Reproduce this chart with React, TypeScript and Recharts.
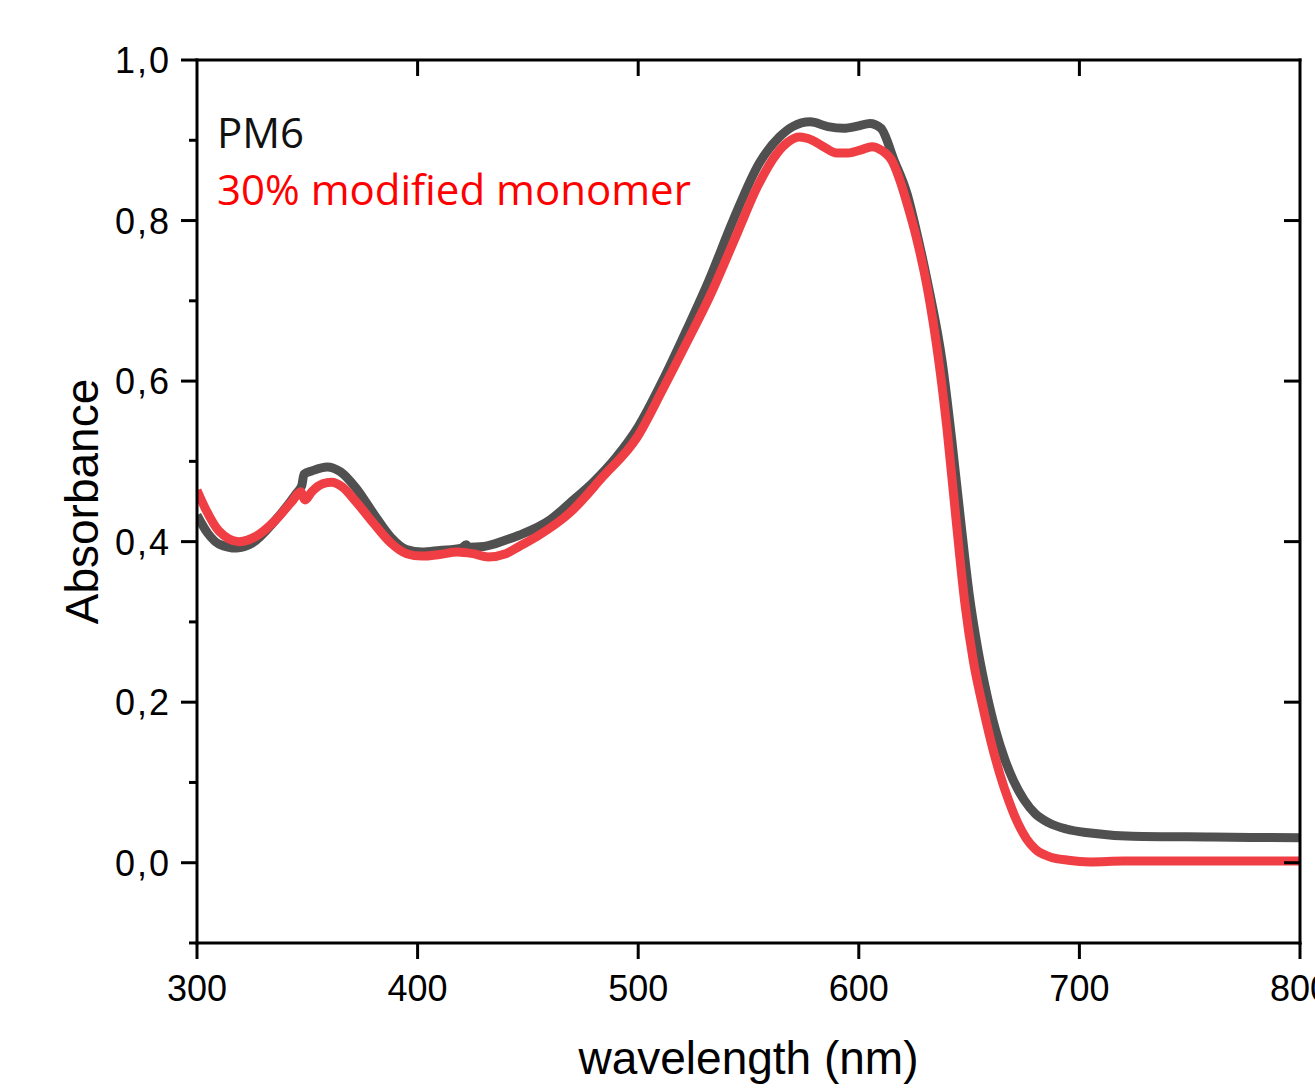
import React from 'react';
import { LineChart, Line, XAxis, YAxis, Legend } from 'recharts';

const pm6Wavelength = [300, 305, 310, 318, 325, 335, 345, 347.5, 348.5, 352, 359, 365, 372, 380, 388, 395, 402, 410, 420, 422, 423, 430, 440, 446, 460, 469, 480, 490, 500, 511, 522, 532, 543, 555, 564, 570, 578, 586, 593, 600, 605, 610, 616, 622, 626, 631, 638, 642, 646, 650, 654, 658, 662, 666, 670, 675, 680, 686, 694, 705, 724, 760, 800];
const pm6Absorbance = [0.433, 0.41, 0.397, 0.392, 0.398, 0.425, 0.46, 0.47, 0.484, 0.488, 0.493, 0.487, 0.467, 0.435, 0.405, 0.39, 0.387, 0.389, 0.392, 0.396, 0.393, 0.394, 0.402, 0.408, 0.427, 0.448, 0.475, 0.505, 0.543, 0.6, 0.664, 0.725, 0.8, 0.872, 0.904, 0.917, 0.923, 0.917, 0.915, 0.918, 0.921, 0.915, 0.875, 0.832, 0.788, 0.725, 0.62, 0.53, 0.43, 0.335, 0.265, 0.21, 0.165, 0.13, 0.103, 0.078, 0.061, 0.05, 0.042, 0.037, 0.033, 0.032, 0.031];

const modWavelength = [300, 304, 310, 319, 327, 335, 343, 347, 349, 352, 357, 361, 366, 372, 380, 388, 395, 402, 410, 418, 425, 432, 440, 446, 455, 469, 484, 499.5, 511, 522, 532.5, 545, 554, 563, 568, 573, 579, 584, 590, 595, 601, 606, 610, 615.5, 619, 622, 626, 631, 636, 640, 644, 648, 652, 656, 660, 664, 668, 672, 676, 680, 686, 695, 705, 720, 760, 800];
const modAbsorbance = [0.464, 0.44, 0.413, 0.4, 0.407, 0.425, 0.45, 0.462, 0.452, 0.462, 0.472, 0.474, 0.468, 0.45, 0.423, 0.398, 0.385, 0.382, 0.384, 0.387, 0.385, 0.381, 0.385, 0.394, 0.408, 0.436, 0.481, 0.53, 0.589, 0.648, 0.706, 0.785, 0.842, 0.884, 0.898, 0.904, 0.9, 0.892, 0.884, 0.884, 0.888, 0.892, 0.888, 0.872, 0.847, 0.82, 0.78, 0.717, 0.63, 0.54, 0.43, 0.325, 0.25, 0.197, 0.15, 0.11, 0.077, 0.05, 0.03, 0.017, 0.008, 0.003, 0.001, 0.002, 0.002, 0.002];

const seriesNames = ['PM6', '30% modified monomer'];
const lineColors = ['#505050', '#ef3f44'];
const textColors = ['#111111', '#ff0000'];

const xTicks = [300, 400, 500, 600, 700, 800];
const xInnerTicks = [400, 500, 600, 700];
const yMajorTicks = [0, 0.2, 0.4, 0.6, 0.8, 1.0];
const yInnerTicks = [0, 0.2, 0.4, 0.6, 0.8];
const yAllTicks = [-0.1, 0, 0.1, 0.2, 0.3, 0.4, 0.5, 0.6, 0.7, 0.8, 0.9, 1.0];

const pm6Data = pm6Wavelength.map((w, i) => ({ w, a: pm6Absorbance[i] }));
const modData = modWavelength.map((w, i) => ({ w, a: modAbsorbance[i] }));

const AX = { stroke: '#000', strokeWidth: 3, strokeLinecap: 'square' as const };
const tickFont = { fontFamily: 'Liberation Sans, Arial, sans-serif', fontSize: 36, fill: '#000' };
const TICK = 16;

const fmt = (v: number) => v.toFixed(1).replace('.', ',');

const LeftTick = (props: any) => {
  const { x, y, payload } = props;
  const v = payload.value;
  const axisX = x + TICK + 10;
  const isMajor = yMajorTicks.some((m) => Math.abs(m - v) < 1e-6);
  return (
    <g>
      <line x1={axisX} x2={axisX - (isMajor ? TICK : 8)} y1={y} y2={y} stroke="#000" strokeWidth={3} />
      {isMajor && (
        <text x={x} y={y} dy="0.36em" textAnchor="end" letterSpacing={2} {...tickFont}>
          {fmt(v)}
        </text>
      )}
    </g>
  );
};

// top axis: tick label anchor sits TICK above the axis line (tickMargin 0)
const TopTick = (props: any) => {
  const { x, y } = props;
  const axisY = y + TICK;
  return <line x1={x} x2={x} y1={axisY} y2={axisY + TICK} stroke="#000" strokeWidth={3} />;
};

// right axis: tick label anchor sits TICK right of the axis line (tickMargin 0)
const RightTick = (props: any) => {
  const { x, y } = props;
  const axisX = x - TICK;
  return <line x1={axisX} x2={axisX - TICK} y1={y} y2={y} stroke="#000" strokeWidth={3} />;
};

const LegendContent = (props: any) => {
  const payload = (props.payload || [])
    .filter((p: any) => seriesNames.indexOf(p.value) >= 0)
    .sort((a: any, b: any) => seriesNames.indexOf(a.value) - seriesNames.indexOf(b.value));
  return (
    <div style={{ fontFamily: 'Open Sans, sans-serif', fontSize: 42, lineHeight: '57px', whiteSpace: 'nowrap' }}>
      {payload.map((p: any) => (
        <div key={p.value} style={{ color: textColors[seriesNames.indexOf(p.value)] }}>
          {p.value}
        </div>
      ))}
    </div>
  );
};

export default function App() {
  return (
    <div style={{ position: 'absolute', left: 0, top: 0, background: '#fff' }}>
      <LineChart width={1315} height={1091} margin={{ top: 59, right: 14, bottom: 88, left: 97 }}>
        <XAxis
          xAxisId="b"
          type="number"
          dataKey="w"
          domain={[300, 800]}
          ticks={xTicks}
          interval={0}
          height={60}
          axisLine={AX}
          tickLine={{ stroke: '#000', strokeWidth: 3 }}
          tickSize={TICK}
          tickMargin={16}
          tick={tickFont}
          allowDataOverflow
          label={{
            value: 'wavelength (nm)',
            position: 'bottom',
            offset: 38,
            style: { fontFamily: 'Liberation Sans, Arial, sans-serif', fontSize: 46, fill: '#000' },
          }}
        />
        <XAxis
          xAxisId="t"
          orientation="top"
          type="number"
          dataKey="w"
          domain={[300, 800]}
          ticks={xInnerTicks}
          interval={0}
          height={1}
          axisLine={AX}
          tickLine={false}
          tickSize={TICK}
          tickMargin={0}
          tick={<TopTick />}
          allowDataOverflow
        />
        <YAxis
          yAxisId="l"
          type="number"
          domain={[-0.1, 1.0]}
          ticks={yAllTicks}
          interval={0}
          width={100}
          axisLine={AX}
          tickLine={false}
          tickSize={TICK}
          tickMargin={10}
          tick={<LeftTick />}
          allowDataOverflow
          label={{
            value: 'Absorbance',
            angle: -90,
            position: 'insideLeft',
            offset: -15,
            style: { textAnchor: 'middle', fontFamily: 'Liberation Sans, Arial, sans-serif', fontSize: 46, fill: '#000' },
          }}
        />
        <YAxis
          yAxisId="r"
          orientation="right"
          type="number"
          domain={[-0.1, 1.0]}
          ticks={yInnerTicks}
          interval={0}
          width={1}
          axisLine={AX}
          tickLine={false}
          tickSize={TICK}
          tickMargin={0}
          tick={<RightTick />}
          allowDataOverflow
        />
        <Legend
          layout="vertical"
          align="center"
          verticalAlign="middle"
          content={<LegendContent />}
          wrapperStyle={{ position: 'absolute', top: 103, left: 217, width: 'auto', height: 'auto' }}
        />
        <Line
          xAxisId="t"
          yAxisId="r"
          data={pm6Data}
          dataKey="a"
          name="frame"
          legendType="none"
          stroke="none"
          dot={false}
          activeDot={false}
          isAnimationActive={false}
        />
        <Line
          xAxisId="b"
          yAxisId="l"
          data={pm6Data}
          dataKey="a"
          name={seriesNames[0]}
          type="monotone"
          stroke={lineColors[0]}
          strokeWidth={9}
          dot={false}
          isAnimationActive={false}
        />
        <Line
          xAxisId="b"
          yAxisId="l"
          data={modData}
          dataKey="a"
          name={seriesNames[1]}
          type="monotone"
          stroke={lineColors[1]}
          strokeWidth={9}
          dot={false}
          isAnimationActive={false}
        />
      </LineChart>
    </div>
  );
}
